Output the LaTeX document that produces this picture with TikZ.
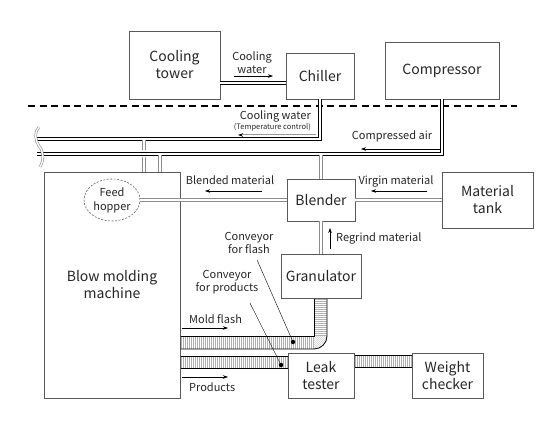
\documentclass[tikz,border=0pt]{standalone}
\usepackage{fontspec}
\setmainfont{Noto Sans CJK JP}
\usetikzlibrary{shapes.geometric,arrows.meta,calc}
\begin{document}
\begin{tikzpicture}[x=1pt,y=-1pt,
  box/.style={draw=black!65,line width=0.7pt,fill=white,rectangle,align=center,font=\fontsize{14}{17}\selectfont,inner sep=0pt,text=black!85},
  lbl/.style={font=\fontsize{11}{13}\selectfont,inner sep=0pt,align=center,text=black!85},
  smalllbl/.style={font=\fontsize{7.5}{9}\selectfont,inner sep=0pt,text=black!85},
  blackpipe/.style={draw=black,double=white,double distance=1.8pt,line width=0.7pt},
  graypipe/.style={draw=black!45,double=white,double distance=1.8pt,line width=0.8pt},
  flow/.style={line width=0.5pt,-{Stealth[length=5pt,width=3.5pt]}},
  hatch/.style={black!30,line width=0.35pt},
  beltedge/.style={line width=0.8pt},
  leader/.style={line width=0.4pt},
  beltdot/.style={circle,fill=black,inner sep=0pt,minimum size=4.5pt},
]
\useasboundingbox (0,0) rectangle (560,425);

% ---- conveyors (hatching) ----
\foreach \x in {181,183,...,313} \draw[hatch] (\x,336) -- (\x,349);
\foreach \x in {181,183,...,287} \draw[hatch] (\x,356) -- (\x,368);
\foreach \x in {355,357,...,411} \draw[hatch] (\x,355) -- (\x,367);
\foreach \y in {299,301,...,335} \draw[hatch] (314,\y) -- (327,\y);
\begin{scope}
  \clip (314,336) -- (327,336) .. controls (327,343.2) and (321.2,349) .. (314,349) -- cycle;
  \foreach \k in {-14,-12,...,14} \draw[hatch] (314+\k,336) -- (327+\k,349);
\end{scope}
\draw[beltedge] (327,298) -- (327,336) .. controls (327,343.2) and (321.2,349) .. (314,349) -- (180,349);
\draw[beltedge] (314,298) -- (314,336) -- (180,336);
\draw[beltedge] (180,356) -- (288,356);
\draw[beltedge] (180,368) -- (288,368);
\draw[beltedge] (354,355) -- (412,355);
\draw[beltedge] (354,367) -- (412,367);

% ---- boxes ----
\node[box,minimum width=91pt,minimum height=68pt] (tower) at (174.5,65) {Cooling\\tower};
\node[box,minimum width=68pt,minimum height=46pt] (chiller) at (320,76) {Chiller};
\node[box,minimum width=114pt,minimum height=57pt] (compressor) at (442,70.5) {Compressor};
\node[box,minimum width=68pt,minimum height=42pt] (blender) at (321,200) {Blender};
\node[box,minimum width=91pt,minimum height=56pt] (tank) at (487.5,200) {Material\\tank};
\node[box,minimum width=80pt,minimum height=44pt] (granulator) at (321,276) {Granulator};
\node[box,minimum width=136pt,minimum height=226pt] (machine) at (112,285) {Blow molding\\machine};
\node[box,minimum width=66pt,minimum height=45pt] (leak) at (321,375.5) {Leak\\tester};
\node[box,minimum width=71pt,minimum height=45pt] (weight) at (447.5,375.5) {Weight\\checker};
\node[ellipse,draw=black!60,dash pattern=on 2pt off 1.5pt,line width=0.6pt,minimum width=56pt,minimum height=42pt,inner sep=0pt,align=center,font=\fontsize{11}{14}\selectfont,text=black!85] (hopper) at (112,200) {Feed\\hopper};

% ---- dashed boundary ----
\coordinate (dL) at (28,106);
\coordinate (dR) at (517,106);
\draw[line width=1.4pt,dash pattern=on 7pt off 4.5pt] (dL) -- (dR);

% ---- utility pipes ----
\coordinate (cwy) at (0,83);
\draw[blackpipe] (tower.east |- cwy) -- (chiller.west |- cwy);
\coordinate (brkA) at (37,139);
\coordinate (brkB) at (37,154);
\draw[blackpipe] (chiller.south) |- (brkA);
\coordinate (pA) at (144,140.5);
\draw[graypipe] (pA) -- (pA |- machine.north);
\draw[white,line width=7pt] (compressor.south |- brkB) -- (brkB);
\draw[blackpipe] (compressor.south) |- (brkB);
\coordinate (pB) at (160,155.5);
\draw[graypipe] (pB) -- (pB |- machine.north);
\coordinate (pC) at (321,155.5);
\draw[graypipe] (pC) -- (blender.north);
% break mark
\draw[graypipe,line width=0.6pt,double distance=1.4pt] (39,127) .. controls (34,132) and (35,140) .. (39,146) .. controls (44,152) and (44,160) .. (40,167);

% ---- material pipes ----
\draw[graypipe] (hopper.east) -- (blender.west);
\draw[graypipe] (tank.west) -- (blender.east);
\draw[graypipe] (granulator.north) -- (blender.south);

% ---- flow labels and arrows ----
\node[lbl] (cwlbl) at (252,63) {Cooling\\water};
\coordinate (a1s) at (234,76); \coordinate (a1e) at (273,76);
\draw[flow] (a1s) -- (a1e);

\node[lbl,anchor=east] (cw2) at (311,116) {Cooling water};
\node[smalllbl,anchor=east] (tc) at (311,127) {(Temperature control)};
\coordinate (a2s) at (316,135); \coordinate (a2e) at (238,135);
\draw[line width=1pt,black!40,-{Stealth[length=5pt,width=3.5pt,color=black]}] (a2s) -- (a2e);

\node[lbl] (calbl) at (392,136) {Compressed air};
\coordinate (a3s) at (440,149); \coordinate (a3e) at (361,149);
\draw[flow] (a3s) -- (a3e);

\node[lbl] (bmlbl) at (230,180) {Blended material};
\coordinate (a4s) at (262,191); \coordinate (a4e) at (205,191);
\draw[flow] (a4s) -- (a4e);

\node[lbl] (vmlbl) at (396,181) {Virgin material};
\coordinate (a5s) at (427,191); \coordinate (a5e) at (371,191);
\draw[flow] (a5s) -- (a5e);

\node[lbl,anchor=west] (rglbl) at (336,238) {Regrind material};
\coordinate (a6s) at (330,249); \coordinate (a6e) at (330,228);
\draw[flow] (a6s) -- (a6e);

\node[lbl,anchor=west] (mflbl) at (189,319) {Mold flash};
\coordinate (a7s) at (182,328); \coordinate (a7e) at (228,328);
\draw[flow] (a7s) -- (a7e);

\node[lbl,anchor=west] (prlbl) at (189,387) {Products};
\coordinate (a8s) at (182,377); \coordinate (a8e) at (228,377);
\draw[flow] (a8s) -- (a8e);

% ---- conveyor callouts ----
\node[lbl] (cflbl) at (249,243) {Conveyor\\for flash};
\node[lbl] (cplbl) at (227,282) {Conveyor\\for products};
\node[beltdot] (dotF) at (293,342) {};
\node[beltdot] (dotP) at (281,365) {};
\draw[leader] ($(cflbl.south)+(8,6)$) -- (dotF);
\draw[leader] ($(cplbl.south)+(23,9)$) -- (dotP);
\end{tikzpicture}
\end{document}
